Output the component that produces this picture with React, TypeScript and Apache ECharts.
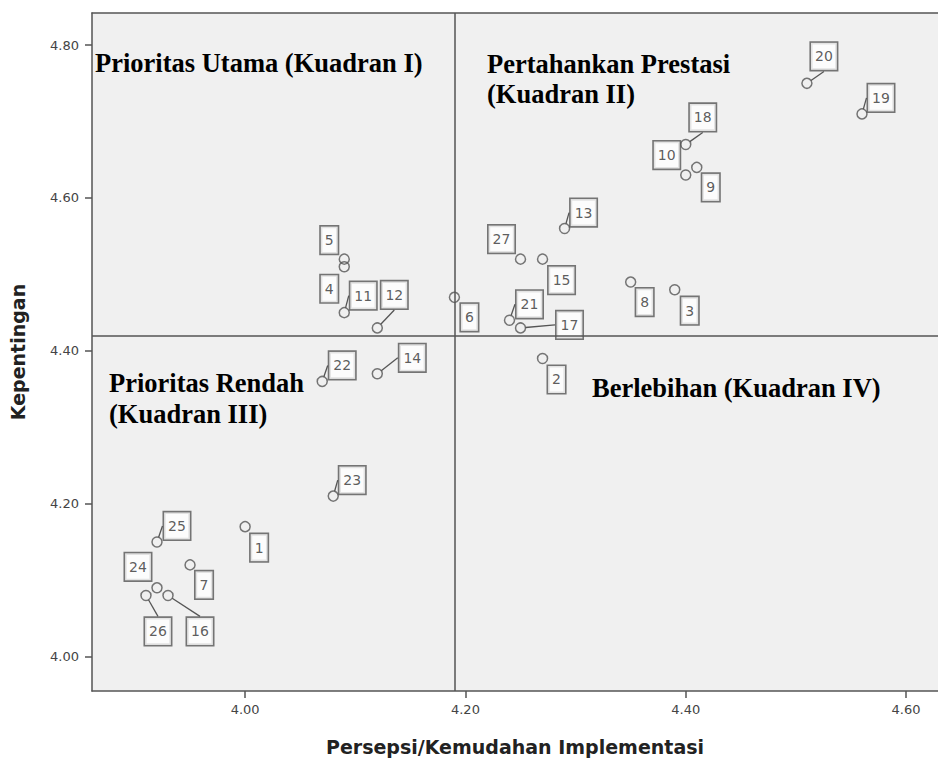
import React, { useEffect, useRef } from "react";
import * as echarts from "echarts";

// Case numbers
const caseIds = [
  "1", "2", "3", "4", "5", "6", "7", "8", "9", "10", "11", "12", "13", "14",
  "15", "16", "17", "18", "19", "20", "21", "22", "23", "24", "25", "26", "27",
];
// Persepsi/Kemudahan Implementasi (x)
const persepsi = [
  4.0, 4.27, 4.39, 4.09, 4.09, 4.19, 3.95, 4.35, 4.41, 4.4, 4.09, 4.12, 4.29, 4.12,
  4.27, 3.93, 4.25, 4.4, 4.56, 4.51, 4.24, 4.07, 4.08, 3.92, 3.92, 3.91, 4.25,
];
// Kepentingan (y)
const kepentingan = [
  4.17, 4.39, 4.48, 4.51, 4.52, 4.47, 4.12, 4.49, 4.64, 4.63, 4.45, 4.43, 4.56, 4.37,
  4.52, 4.08, 4.43, 4.67, 4.71, 4.75, 4.44, 4.36, 4.21, 4.09, 4.15, 4.08, 4.52,
];

const xTicks = [4.0, 4.2, 4.4, 4.6];
const yTicks = [4.0, 4.2, 4.4, 4.6, 4.8];

const quadrantTitles = {
  q1: ["Prioritas Utama (Kuadran I)"],
  q2: ["Pertahankan Prestasi", "(Kuadran II)"],
  q3: ["Prioritas Rendah", "(Kuadran III)"],
  q4: ["Berlebihan (Kuadran IV)"],
};

// label box offsets (px) from each point, for the case-number tags
const labelOffsets: [number, number][] = [
  [14, 21], [14, 21], [15, 21], [-15, 22], [-15, -19], [15, 20], [14, 20],
  [14, 20], [14, 20], [-19, -20], [19, -17], [17, -33], [19, -16], [35, -16],
  [19, 21], [32, 36], [49, -3], [17, -27], [19, -16], [17, -27], [20, -16],
  [20, -16], [19, -16], [-19, -21], [20, -16], [12, 36], [-19, -20],
];
// which tags have a visible leader line
const withLeader = new Set([
  "11", "12", "13", "14", "16", "17", "18", "19", "20", "21", "22", "23", "25", "26",
]);

const mean = (a: number[]) => a.reduce((s, v) => s + v, 0) / a.length;

export default function App() {
  const ref = useRef<HTMLDivElement>(null);

  useEffect(() => {
    if (!ref.current) return;
    const chart = echarts.init(ref.current, undefined, { renderer: "svg" });
    const xMean = mean(persepsi);
    const yMean = mean(kepentingan);
    const data = caseIds.map((id, i) => ({
      name: id,
      value: [persepsi[i], kepentingan[i]],
      labelLine: { show: withLeader.has(id) },
    }));

    const serif = "'Liberation Serif', 'Times New Roman', serif";
    const titleStyle = { fontFamily: serif, fontWeight: "bold", fontSize: 26.5, fill: "#000", verticalAlign: "middle" };
    const mkText = (text: string, x: number, y: number) => ({
      type: "text",
      x,
      y,
      silent: true,
      z: 100,
      style: { ...titleStyle, text },
    });

    const axisLineStyle = { color: "#555", width: 1.5 };

    chart.setOption({
      animation: false,
      backgroundColor: "#fff",
      grid: {
        left: 92,
        top: 13,
        right: 0,
        bottom: 71,
        show: true,
        backgroundColor: "#f0f0f0",
        borderWidth: 0,
      },
      xAxis: [
        {
          type: "value",
          min: 3.861,
          max: 4.629,
          name: "Persepsi/Kemudahan Implementasi",
          nameLocation: "middle",
          nameGap: 46,
          nameTextStyle: { fontFamily: "DejaVu Sans", fontWeight: "bold", fontSize: 19, color: "#222" },
          axisLine: { show: true, onZero: false, lineStyle: axisLineStyle },
          axisTick: { show: true, length: 7, inside: false, customValues: xTicks, lineStyle: axisLineStyle },
          axisLabel: {
            customValues: xTicks,
            formatter: (v: number) => v.toFixed(2),
            fontFamily: "DejaVu Sans",
            fontSize: 13,
            color: "#444",
            margin: 12,
          },
          splitLine: { show: false },
        },
        {
          type: "value",
          position: "top",
          min: 3.861,
          max: 4.629,
          axisLine: { show: true, onZero: false, lineStyle: axisLineStyle },
          axisTick: { show: false },
          axisLabel: { show: false },
          splitLine: { show: false },
        },
      ],
      yAxis: {
        type: "value",
        min: 3.955,
        max: 4.842,
        name: "Kepentingan",
        nameLocation: "middle",
        nameGap: 65,
        nameRotate: 90,
        nameTextStyle: { fontFamily: "DejaVu Sans", fontWeight: "bold", fontSize: 19, color: "#222" },
        axisLine: { show: true, onZero: false, lineStyle: axisLineStyle },
        axisTick: { show: true, length: 7, inside: false, customValues: yTicks, lineStyle: axisLineStyle },
        axisLabel: {
          customValues: yTicks,
          formatter: (v: number) => v.toFixed(2),
          fontFamily: "DejaVu Sans",
          fontSize: 13,
          color: "#444",
          margin: 13,
        },
        splitLine: { show: false },
      },
      series: [
        {
          type: "scatter",
          xAxisIndex: 0,
          data,
          symbol: "circle",
          symbolSize: 10,
          itemStyle: { color: "rgba(0,0,0,0)", borderColor: "#555", borderWidth: 1.5 },
          label: {
            show: true,
            position: "inside",
            formatter: "{b}",
            fontFamily: "DejaVu Sans",
            fontSize: 14,
            lineHeight: 17,
            color: "#333",
            backgroundColor: "#fff",
            borderColor: "#555",
            borderWidth: 1.6,
            padding: [5, 4, 5, 4],
          },
          labelLine: { show: true, lineStyle: { color: "#555", width: 1.3 } },
          labelLayout: (p: any) => ({
            dx: labelOffsets[p.dataIndex][0],
            dy: labelOffsets[p.dataIndex][1],
            hideOverlap: false,
          }),
          markLine: {
            silent: true,
            symbol: "none",
            label: { show: false },
            lineStyle: { color: "#555", width: 1.5, type: "solid" },
            data: [{ xAxis: xMean }, { yAxis: yMean }],
          },
        },
      ],
      graphic: [
        mkText(quadrantTitles.q1[0], 95, 63),
        mkText(quadrantTitles.q2[0], 487, 64),
        mkText(quadrantTitles.q2[1], 487, 94),
        mkText(quadrantTitles.q3[0], 109, 383),
        mkText(quadrantTitles.q3[1], 109, 414),
        mkText(quadrantTitles.q4[0], 592, 388),
      ],
    });
    return () => chart.dispose();
  }, []);

  return (
    <div
      ref={ref}
      style={{ position: "absolute", left: 0, top: 0, width: 938, height: 762 }}
    />
  );
}
